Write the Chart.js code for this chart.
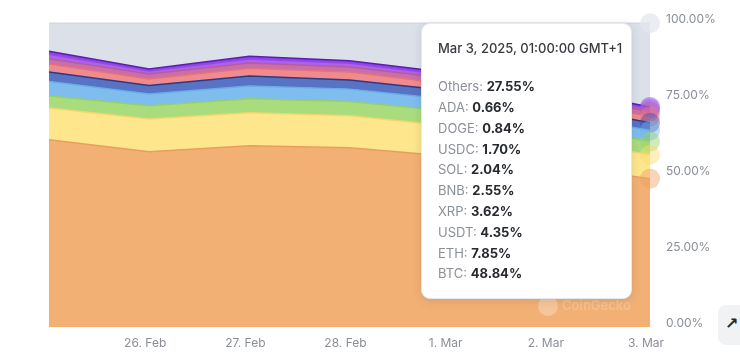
<!DOCTYPE html>
<html>
<head>
<meta charset="utf-8">
<script src="https://cdn.jsdelivr.net/npm/chart.js@4.4.1/dist/chart.umd.min.js"></script>
<style>
  html, body { margin: 0; padding: 0; background: #ffffff; }
  #wrap { position: relative; width: 740px; height: 356px; overflow: hidden; font-family: Inter, "Noto Sans", sans-serif; }
  canvas { position: absolute; left: 0; top: 0; }
  #tip {
    position: absolute; width: 211px; height: 276px; box-sizing: border-box;
    background: #ffffff; border: 1px solid #e6e8ec; border-radius: 9px;
    box-shadow: 0 2px 10px rgba(30, 35, 50, 0.13);
    padding: 16px 0 0 16px; opacity: 0; pointer-events: none;
    font-family: Inter, "Noto Sans", sans-serif; color: #2b2e33;
  }
  #tip .t { font-size: 13px; font-weight: 500; line-height: 17px; color: #383b40; margin-bottom: 19px; white-space: nowrap; }
  #tip .r { font-size: 13px; line-height: 20.8px; white-space: nowrap; }
  #tip .r .l { color: #8b8f97; }
  #tip .r .v { color: #26292e; font-weight: 700; }
  #btn { position: absolute; left: 718px; top: 305px; width: 44px; height: 40px; background: #f1f2f4; border-radius: 8px; }
  #btn span { position: absolute; left: 7px; top: 9px; font: 700 16px "DejaVu Sans", sans-serif; color: #26292e; }
</style>
</head>
<body>
<div id="wrap">
  <canvas id="c" width="740" height="356"></canvas>
  <div id="tip"></div>
  <div id="btn"><span>↗</span></div>
</div>
<script>
const categories = ['25. Feb', '26. Feb', '27. Feb', '28. Feb', '1. Mar', '2. Mar', '3. Mar'];
const tooltipTitles = [
  'Feb 25, 2025, 01:00:00 GMT+1', 'Feb 26, 2025, 01:00:00 GMT+1', 'Feb 27, 2025, 01:00:00 GMT+1',
  'Feb 28, 2025, 01:00:00 GMT+1', 'Mar 1, 2025, 01:00:00 GMT+1', 'Mar 2, 2025, 01:00:00 GMT+1',
  'Mar 3, 2025, 01:00:00 GMT+1'
];
const btc    = [61.6, 57.7, 59.7, 59.0, 56.2, 53.5, 48.84];
const eth    = [10.5, 10.8, 10.8, 10.5, 10.0, 8.8, 7.85];
const usdt   = [3.9, 4.3, 4.6, 4.7, 4.8, 4.6, 4.35];
const xrp    = [4.8, 3.9, 4.2, 4.1, 3.9, 3.9, 3.62];
const bnb    = [3.1, 2.8, 3.3, 3.0, 2.9, 2.7, 2.55];
const sol    = [2.7, 2.1, 2.6, 2.6, 2.2, 2.1, 2.04];
const usdc   = [1.7, 1.7, 1.7, 1.7, 1.8, 1.8, 1.70];
const doge   = [1.5, 1.0, 1.3, 1.2, 1.1, 0.9, 0.84];
const ada    = [1.0, 0.6, 0.9, 0.8, 0.8, 0.7, 0.66];
const others = [9.2, 15.1, 10.9, 12.4, 16.3, 21.0, 27.55];
const yTicks = [0, 25, 50, 75, 100];

const seriesNames  = ['BTC', 'ETH', 'USDT', 'XRP', 'BNB', 'SOL', 'USDC', 'DOGE', 'ADA', 'Others'];
const seriesValues = [btc, eth, usdt, xrp, bnb, sol, usdc, doge, ada, others];
const fills   = ['#f3b075', '#fde68c', '#a9dc7c', '#7fbdef', '#5873c4', '#f08a8c', '#c96fa8', '#ad62ec', '#8a44ee', '#dce0e9'];
const borders = ['#eb9d5c', '#f5d66e', '#97d068', '#69ade6', '#2b3a85', '#e6727c', '#b75c98', '#9a48e4', '#5a1fae', '#d4d8e2'];
const halos   = ['rgba(240,160,100,0.45)', 'rgba(250,220,110,0.45)', 'rgba(150,210,100,0.45)', 'rgba(110,175,235,0.45)',
                 'rgba(60,80,170,0.45)', 'rgba(235,120,130,0.45)', 'rgba(190,90,160,0.45)', 'rgba(165,90,235,0.45)',
                 'rgba(140,70,240,0.5)', 'rgba(228,231,239,0.75)'];

const datasets = seriesNames.map((name, i) => ({
  label: name,
  data: seriesValues[i],
  backgroundColor: fills[i],
  borderColor: borders[i],
  borderWidth: 1.5,
  fill: i === 0 ? 'origin' : '-1',
  tension: 0,
  pointRadius: 0,
  pointHoverRadius: 10,
  pointHoverBorderWidth: 0,
  pointHoverBackgroundColor: halos[i],
  clip: 14
}));

const watermark = {
  id: 'watermark',
  afterDatasetsDraw(chart) {
    const ctx = chart.ctx;
    ctx.save();
    ctx.fillStyle = 'rgba(255,255,255,0.28)';
    ctx.beginPath();
    ctx.arc(548, 306, 10, 0, Math.PI * 2);
    ctx.fill();
    ctx.font = '600 13px Inter, sans-serif';
    ctx.textBaseline = 'middle';
    ctx.fillStyle = 'rgba(255,255,255,0.22)';
    ctx.fillText('CoinGecko', 562, 306);
    ctx.restore();
  }
};

function externalTip({ chart, tooltip }) {
  const el = document.getElementById('tip');
  if (tooltip.opacity === 0) { el.style.opacity = 0; return; }
  const pts = tooltip.dataPoints || [];
  if (!pts.length) return;
  let html = '<div class="t">' + tooltipTitles[pts[0].dataIndex] + '</div>';
  pts.forEach(p => {
    html += '<div class="r"><span class="l">' + p.dataset.label + ': </span><span class="v">' +
            Number(p.raw).toFixed(2) + '%</span></div>';
  });
  el.innerHTML = html;
  el.style.left = (tooltip.caretX - 18 - 211) + 'px';
  el.style.top = chart.chartArea.top + 'px';
  el.style.opacity = 1;
}

const chart = new Chart(document.getElementById('c'), {
  type: 'line',
  data: { labels: categories, datasets },
  plugins: [watermark],
  options: {
    responsive: false,
    animation: false,
    events: [],
    layout: { padding: { left: 49, top: 22, right: 0, bottom: 0 } },
    interaction: { mode: 'index', intersect: false },
    plugins: {
      legend: { display: false },
      tooltip: {
        enabled: false,
        external: externalTip,
        itemSort: (a, b) => b.datasetIndex - a.datasetIndex
      }
    },
    scales: {
      x: {
        type: 'category',
        offset: false,
        grid: { display: false, drawTicks: false },
        border: { display: false },
        afterFit: s => { s.height = 29; },
        ticks: {
          autoSkip: false, maxRotation: 0, padding: 9, labelOffset: -4,
          color: '#8a8e96', font: { family: 'Inter', size: 12 },
          callback: (v, i) => i === 0 ? '' : categories[i]
        }
      },
      y: {
        position: 'right',
        stacked: true,
        min: 0, max: 100,
        grid: { display: false, drawTicks: false },
        border: { display: false },
        afterFit: s => { s.width = 90; },
        afterBuildTicks: s => { s.ticks = yTicks.map(v => ({ value: v })); },
        ticks: {
          padding: 16, labelOffset: -4,
          color: '#8a8e96', font: { family: 'Inter', size: 12 },
          callback: v => Number(v).toFixed(2) + '%'
        }
      }
    }
  }
});

const idx = categories.length - 1;
const active = datasets.map((d, i) => ({ datasetIndex: i, index: idx }));
chart.setActiveElements(active);
chart.tooltip.setActiveElements(active, { x: chart.chartArea.right, y: chart.chartArea.top + 100 });
chart.update();
</script>
</body>
</html>
